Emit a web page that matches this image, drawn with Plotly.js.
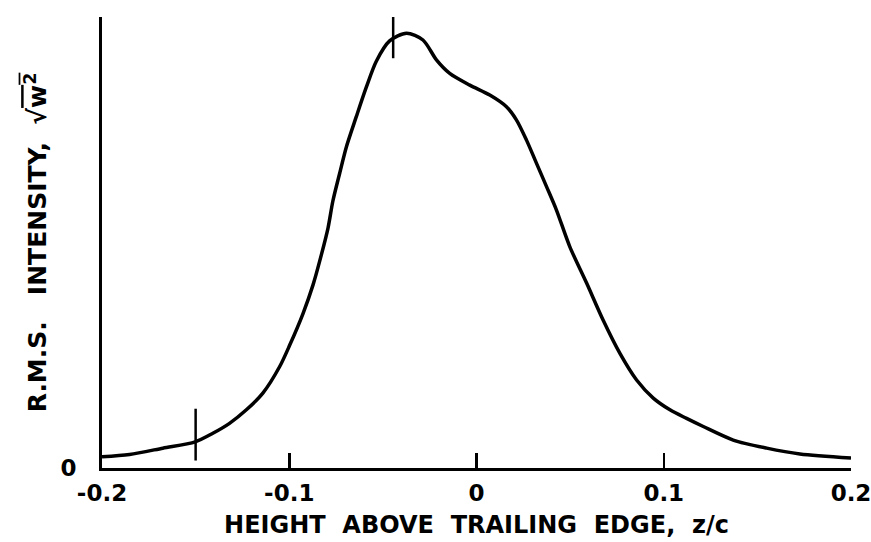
<!DOCTYPE html>
<html>
<head>
<meta charset="utf-8">
<script src="https://cdn.plot.ly/plotly-3.0.1.min.js"></script>
<style>html,body{margin:0;padding:0;background:#fff;}#chart{width:871px;height:542px;}</style>
</head>
<body>
<div id="chart"></div>
<script>
// Height above trailing edge, z/c
const zc = [-0.2, -0.1853, -0.1675, -0.1502, -0.1408, -0.1319, -0.1229, -0.1141, -0.1051, -0.0998,
  -0.0927, -0.0873, -0.0829, -0.0793, -0.0767, -0.0731, -0.0695, -0.0642, -0.0588, -0.0535,
  -0.0464, -0.0374, -0.0286, -0.0214, -0.0143, -0.0036, 0.0071, 0.0160, 0.0213, 0.0267,
  0.0320, 0.0374, 0.0427, 0.0498, 0.0588, 0.0676, 0.0766, 0.0855, 0.0944, 0.1033,
  0.1122, 0.1211, 0.1371, 0.1550, 0.1727, 0.2];
// R.M.S. intensity (relative units)
const rms = [0.025, 0.030, 0.044, 0.058, 0.077, 0.099, 0.129, 0.166, 0.225, 0.272,
  0.342, 0.406, 0.472, 0.532, 0.592, 0.653, 0.712, 0.779, 0.845, 0.902,
  0.947, 0.964, 0.949, 0.905, 0.875, 0.849, 0.827, 0.801, 0.772, 0.727,
  0.676, 0.624, 0.572, 0.491, 0.410, 0.328, 0.254, 0.195, 0.155, 0.129,
  0.110, 0.092, 0.062, 0.044, 0.031, 0.022];
// Short vertical reference marks on the curve
const markX = [-0.150, -0.0445];
const markY = [0.074, 0.966];
// Tick labels
const xTickVals = [-0.2, -0.1, 0, 0.1, 0.2];
const xTickText = ["-0.2", "-0.1", "0", "0.1", "0.2"];
const yTickVals = [0];
const yTickText = ["0"];

const font = "DejaVu Sans, sans-serif";

const traces = [
  {x: zc, y: rms, type: 'scatter', mode: 'lines', line: {color: '#000', width: 3.5, shape: 'spline', smoothing: 0.8}, hoverinfo: 'skip'},
  {x: markX, y: markY, type: 'scatter', mode: 'markers', marker: {symbol: 'line-ns', size: 37, line: {color: '#000', width: 2.5}}, hoverinfo: 'skip'}
];

const layout = {
  width: 871, height: 542,
  margin: {l: 102, r: 20, t: 17, b: 74, pad: 0},
  paper_bgcolor: '#fff', plot_bgcolor: '#fff',
  showlegend: false,
  font: {family: font, color: '#000', size: 24, weight: 'bold'},
  xaxis: {
    range: [-0.2, 0.2], tickvals: xTickVals, ticktext: xTickText,
    ticks: 'inside', ticklen: 15, tickwidth: 2.5, tickcolor: '#000',
    showline: true, linecolor: '#000', linewidth: 3, showgrid: false, zeroline: false,
    tickfont: {family: font, size: 23, color: '#000', weight: 'bold'},
    ticklabelstandoff: 2, ticklabeloverflow: 'allow',
    title: {text: 'HEIGHT  ABOVE  TRAILING  EDGE,  z/c', font: {family: font, size: 24, color: '#000', weight: 'bold'}, standoff: 12}
  },
  yaxis: {
    range: [0, 1], tickvals: yTickVals, ticktext: yTickText,
    ticks: '', showline: true, linecolor: '#000', linewidth: 3, showgrid: false, zeroline: false,
    tickfont: {family: font, size: 23, color: '#000', weight: 'bold'},
    ticklabelstandoff: 18, ticklabeloverflow: 'allow',
    title: {text: "R.M.S.   INTENSITY,  √<span style='text-decoration:overline'>w<sup>2</sup></span>", font: {family: font, size: 25, color: '#000', weight: 'bold'}, standoff: 7}
  }
};

Plotly.newPlot('chart', traces, layout, {displayModeBar: false, staticPlot: true});
</script>
</body>
</html>
